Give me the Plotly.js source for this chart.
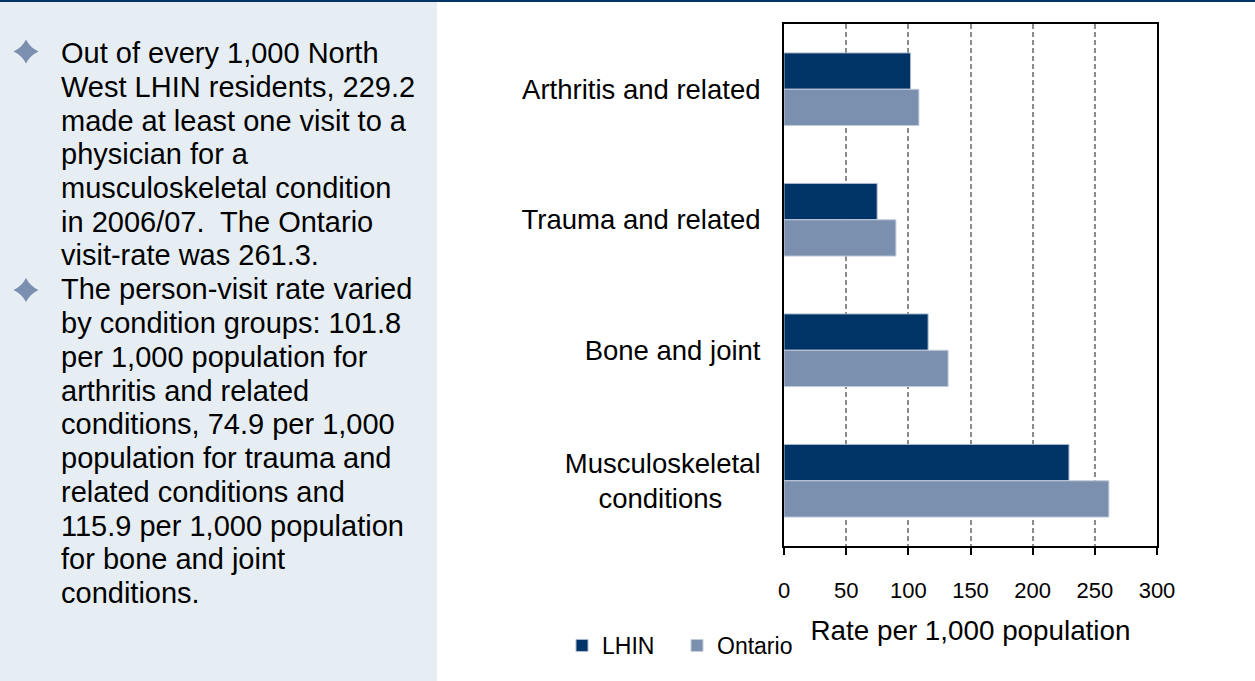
<!DOCTYPE html>
<html>
<head>
<meta charset="utf-8">
<script src="https://cdn.plot.ly/plotly-3.0.1.min.js"></script>
<style>
  html, body { margin: 0; padding: 0; background: #ffffff; }
  #chart { width: 1255px; height: 681px; }
</style>
</head>
<body>
<div id="chart"></div>
<script>
// ---- data ----
const categories = ["Arthritis and related", "Trauma and related", "Bone and joint", "Musculoskeletal conditions"];
const categoryLabels = ["Arthritis and related", "Trauma and related", "Bone and joint", "Musculoskeletal<br>conditions&nbsp;&nbsp;&nbsp;&nbsp;&nbsp;"];
const lhinValues = [101.8, 74.9, 115.9, 229.2];
const ontarioValues = [108.5, 90.0, 132.0, 261.3];
const seriesNames = ["LHIN", "Ontario"];
const xTickValues = [0, 50, 100, 150, 200, 250, 300];
const bullet1Lines = [
  "Out of every 1,000 North",
  "West LHIN residents, 229.2",
  "made at least one visit to a",
  "physician for a",
  "musculoskeletal condition",
  "in 2006/07.  The Ontario",
  "visit-rate was 261.3."
];
const bullet2Lines = [
  "The person-visit rate varied",
  "by condition groups: 101.8",
  "per 1,000 population for",
  "arthritis and related",
  "conditions, 74.9 per 1,000",
  "population for trauma and",
  "related conditions and",
  "115.9 per 1,000 population",
  "for bone and joint",
  "conditions."
];

// ---- layout geometry (pixels) ----
const W = 1255, H = 681;
const PL = 784, PR = 1157, PT = 24, PB = 546;
const px = x => (x - PL) / (PR - PL);
const py = y => (PB - y) / (PB - PT);

const FONT = "Liberation Sans, Arial, sans-serif";

const traces = [
  {
    type: "bar", orientation: "h", name: seriesNames[0],
    y: categories, x: lhinValues,
    marker: { color: "#003366", line: { color: "#aebbd0", width: 1 } },
    hoverinfo: "x+name"
  },
  {
    type: "bar", orientation: "h", name: seriesNames[1],
    y: categories, x: ontarioValues,
    marker: { color: "#7b8fae", line: { color: "#c3cddb", width: 1 } },
    hoverinfo: "x+name"
  }
];

function starPath(cx, cy, rx, ry, k) {
  const P = (x, y) => px(x) + "," + py(y);
  return "M" + P(cx, cy - ry) +
    " Q" + P(cx + k, cy - k) + " " + P(cx + rx, cy) +
    " Q" + P(cx + k, cy + k) + " " + P(cx, cy + ry) +
    " Q" + P(cx - k, cy + k) + " " + P(cx - rx, cy) +
    " Q" + P(cx - k, cy - k) + " " + P(cx, cy - ry) + " Z";
}

const shapes = [
  { type: "rect", xref: "paper", yref: "paper", layer: "below",
    x0: px(0), x1: px(437), y0: py(681), y1: py(2),
    fillcolor: "#e6eef3", line: { width: 0 } },
  { type: "line", xref: "paper", yref: "paper",
    x0: px(0), x1: px(1255), y0: py(1), y1: py(1),
    line: { color: "#003366", width: 2 } },
  { type: "path", xref: "paper", yref: "paper", path: starPath(26, 51.5, 12.5, 12, 4),
    fillcolor: "#7b8fb0", line: { width: 0 } },
  { type: "path", xref: "paper", yref: "paper", path: starPath(26, 290, 12.5, 12, 4),
    fillcolor: "#7b8fb0", line: { width: 0 } }
];

const annotations = [];
const allLines = bullet1Lines.concat(bullet2Lines);
allLines.forEach((t, i) => {
  const baseline = 63 + 33.75 * i;
  annotations.push({
    xref: "paper", yref: "paper", x: px(59), y: py(baseline - 10),
    xanchor: "left", yanchor: "middle", showarrow: false, align: "left",
    text: t, font: { family: FONT, size: 29, color: "#000000" }
  });
});

const layout = {
  width: W, height: H,
  margin: { l: PL, r: W - PR, t: PT, b: H - PB, pad: 0 },
  paper_bgcolor: "#ffffff", plot_bgcolor: "#ffffff",
  font: { family: FONT, color: "#000000" },
  barmode: "group", bargap: 0.443, bargroupgap: 0,
  xaxis: {
    range: [0, 300], tickvals: xTickValues, ticktext: xTickValues.map(String),
    showgrid: true, gridcolor: "#8c8c8c", gridwidth: 1.5, griddash: "5px,3px",
    zeroline: false, showline: true, linecolor: "#000000", linewidth: 2, mirror: true,
    ticks: "outside", ticklen: 7, tickwidth: 2, tickcolor: "#000000",
    tickfont: { family: FONT, size: 22, color: "#000000" }, ticklabelstandoff: 17,
    title: { text: "Rate per 1,000 population", font: { family: FONT, size: 27.8, color: "#000000" }, standoff: 18 },
    fixedrange: true
  },
  yaxis: {
    type: "category", autorange: "reversed",
    tickvals: categories, ticktext: categoryLabels,
    showgrid: false, zeroline: false, showline: true, linecolor: "#000000", linewidth: 2, mirror: true,
    ticks: "", tickfont: { family: FONT, size: 27.5, color: "#000000" }, ticklabelstandoff: 16,
    fixedrange: true
  },
  showlegend: true,
  legend: {
    orientation: "h", x: px(562), xanchor: "left", y: py(624), yanchor: "top",
    font: { family: FONT, size: 23, color: "#000000" },
    bgcolor: "rgba(0,0,0,0)", borderwidth: 0, traceorder: "normal",
    entrywidth: 70, entrywidthmode: "pixels"
  },
  shapes: shapes,
  annotations: annotations
};

Plotly.newPlot("chart", traces, layout, { displayModeBar: false, staticPlot: false, responsive: false });
</script>
</body>
</html>
